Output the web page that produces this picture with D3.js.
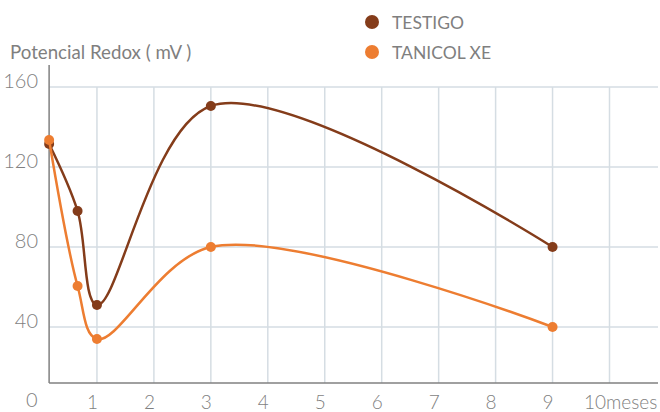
<!DOCTYPE html>
<html>
<head>
<meta charset="utf-8">
<script src="https://cdn.jsdelivr.net/npm/d3@7"></script>
<style>
  body{margin:0;background:#fff;}
  text{font-family:Lato,"Open Sans",sans-serif;fill:#7f7f7f;}
</style>
</head>
<body>
<svg id="chart" width="660" height="412"></svg>
<script>
// values (months, mV)
var months=[0.16,0.66,1,3,9];
var testigo=[131.5,98,51,150.5,80];
var tanicol=[133.5,60.5,34,80,40];
var seriesNames=["TESTIGO","TANICOL XE"];
var seriesColors=["#843c1a","#ed7d31"];
var yTicks=[40,80,120,160];
var xTicks=[1,2,3,4,5,6,7,8,9,10];

var svg=d3.select("#chart");

var x=d3.scaleLinear().domain([0,10]).range([40,609.5]);
var y=d3.scaleLinear().domain([40,160]).range([327,87]);

var x0=x(months[0]);
var yBase=y(12);
var rightEdge=658;

// grid
svg.append("g").selectAll("line.h")
    .data(yTicks)
    .join("line")
    .attr("x1",x0).attr("x2",rightEdge)
    .attr("y1",d=>y(d)).attr("y2",d=>y(d))
    .attr("stroke","#d5dde3").attr("stroke-width",1.5);

svg.append("g").selectAll("line.v")
    .data(xTicks)
    .join("line")
    .attr("x1",d=>x(d)).attr("x2",d=>x(d))
    .attr("y1",y(160)).attr("y2",yBase)
    .attr("stroke","#d5dde3").attr("stroke-width",1.5);

// axes lines
svg.append("line")
    .attr("x1",x0).attr("x2",x0)
    .attr("y1",65).attr("y2",yBase)
    .attr("stroke","#808080").attr("stroke-width",1.5);
svg.append("line")
    .attr("x1",x0).attr("x2",rightEdge)
    .attr("y1",yBase).attr("y2",yBase)
    .attr("stroke","#808080").attr("stroke-width",1.5);

// tick labels
var yAxis=d3.axisLeft(y).tickValues(yTicks).tickSize(0).tickPadding(0);
var gy=svg.append("g").attr("transform","translate(38,0)").call(yAxis);
gy.select(".domain").remove();
gy.selectAll("text")
    .attr("dy","0")
    .style("font-size","20px")
    .style("font-weight","300")
    .attr("fill","#7f7f7f");

var xAxis=d3.axisBottom(x).tickValues(xTicks).tickSize(0).tickPadding(0)
    .tickFormat(d=>d==10?"10meses":d);
var gx=svg.append("g").attr("transform","translate(-5,409)").call(xAxis);
gx.select(".domain").remove();
gx.selectAll("text")
    .attr("dy","0")
    .attr("y",0)
    .style("font-size","19px")
    .style("font-weight","300")
    .attr("fill","#7f7f7f");
gx.selectAll(".tick").filter(d=>d==10).select("text")
    .attr("text-anchor","start").attr("x",-21);

svg.append("text")
    .attr("x",26).attr("y",407)
    .style("font-size","20px").style("font-weight","300")
    .text("0");

// title
svg.append("text")
    .attr("x",10).attr("y",59)
    .style("font-size","18.7px")
    .attr("fill","#595959")
    .text("Potencial Redox ( mV )");

// series
var line=d3.line()
    .x(d=>x(d[0]))
    .y(d=>y(d[1]))
    .curve(d3.curveCatmullRom.alpha(0.5));

[testigo,tanicol].forEach(function(vals,i){
    var pts=months.map((m,j)=>[m,vals[j]]);
    var g=svg.append("g");
    g.append("path")
        .attr("d",line(pts))
        .attr("fill","none")
        .attr("stroke",seriesColors[i])
        .attr("stroke-width",2.5);
    g.selectAll("circle")
        .data(pts)
        .join("circle")
        .attr("cx",d=>x(d[0]))
        .attr("cy",d=>y(d[1]))
        .attr("r",5)
        .attr("fill",seriesColors[i]);
});

// legend
var lg=svg.append("g").selectAll("g")
    .data(seriesNames)
    .join("g")
    .attr("transform",(d,i)=>"translate(372,"+(22+i*30)+")");
lg.append("circle").attr("r",7).attr("fill",(d,i)=>seriesColors[i]);
lg.append("text")
    .attr("x",20).attr("y",7)
    .style("font-size","17.5px")
    .text(d=>d);
</script>
</body>
</html>
